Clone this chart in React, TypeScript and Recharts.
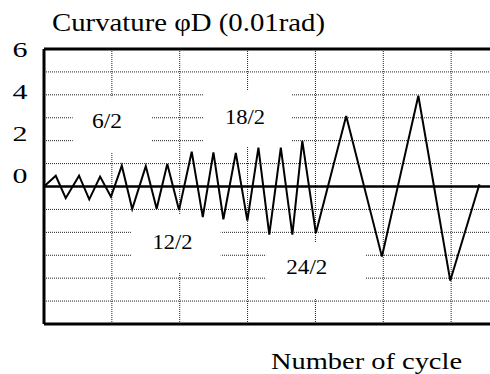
import {
  CartesianGrid,
  Line,
  LineChart,
  ReferenceArea,
  ReferenceDot,
  ReferenceLine,
  XAxis,
  YAxis,
} from "recharts";

// cycle position (1 unit = one cycle) and curvature (0.01 rad)
const cycleX = [
  0, 0.52, 0.96, 1.55, 2.0, 2.48, 2.96, 3.44, 3.9, 4.5, 4.98, 5.45, 5.97, 6.53,
  7.02, 7.49, 7.93, 8.48, 8.99, 9.48, 9.96, 10.47, 10.98, 11.42, 12.02, 13.36,
  14.94, 16.55, 17.96, 19.25,
];
const curvature = [
  0, 0.47, -0.51, 0.47, -0.56, 0.43, -0.45, 0.91, -0.98, 0.89, -0.97, 0.98,
  -1.03, 1.52, -1.34, 1.49, -1.43, 1.47, -1.49, 1.7, -2.1, 1.7, -2.1, 1.99,
  -2.03, 3.08, -3.06, 3.96, -4.11, 0.1,
];

const gridYTicks = [-6, -5, -4, -3, -2, -1, 0, 1, 2, 3, 4, 5, 6];
const yTickLabels = [6, 4, 2, 0];
const gridXTicks = [0, 3, 6, 9, 12, 15, 18, 21];
const stageLabels = ["6/2", "12/2", "18/2", "24/2"];

const data = cycleX.map((x, i) => ({ x, phi: curvature[i] }));

// white label boxes that cover the dotted grid, in data units
const stageBoxes = [
  { x1: 1.27, x2: 4.76, y1: 1.46, y2: 3.9, tx: 2.79, ty: 2.84, len: 30 },
  { x1: 3.85, x2: 7.81, y1: -3.76, y2: -1.24, tx: 5.68, ty: -2.41, len: 40 },
  { x1: 7.05, x2: 10.96, y1: 1.74, y2: 4.17, tx: 8.89, ty: 3.05, len: 40 },
  { x1: 9.82, x2: 14.2, y1: -4.86, y2: -2.42, tx: 11.62, ty: -3.51, len: 41 },
];

const SERIF = "Liberation Serif";

function YTick({ x, y, payload }: any) {
  const v = payload.value;
  if (!yTickLabels.includes(v)) return <g />;
  return (
    <text
      x={x - 16}
      y={y + 7.5 + (v - 6) * 1.8}
      textAnchor="middle"
      fontFamily={SERIF}
      fontSize={22}
      fill="#000"
      textLength={15}
      lengthAdjust="spacingAndGlyphs"
    >
      {v}
    </text>
  );
}

export default function App() {
  return (
    <div
      style={{
        position: "fixed",
        left: 0,
        top: 0,
        width: 490,
        height: 374,
        overflow: "hidden",
        background: "#fff",
        fontFamily: SERIF,
      }}
    >
      <LineChart
        width={519}
        height={374}
        data={data}
        margin={{ top: 49, right: 0, bottom: 50, left: 0 }}
        style={{ fontFamily: SERIF }}
      >
        <CartesianGrid stroke="#222" strokeWidth={1} strokeDasharray="1 1" />
        <XAxis
          type="number"
          dataKey="x"
          domain={[0, 21]}
          ticks={gridXTicks}
          hide
        />
        <YAxis
          type="number"
          domain={[-6, 6]}
          ticks={gridYTicks}
          interval={0}
          width={44}
          axisLine={false}
          tickLine={false}
          tick={<YTick />}
        />
        {stageBoxes.map((b, i) => (
          <ReferenceArea
            key={stageLabels[i]}
            x1={b.x1}
            x2={b.x2}
            y1={b.y1}
            y2={b.y2}
            fill="#fff"
            fillOpacity={1}
            stroke="none"
          />
        ))}
        {stageBoxes.map((b, i) => (
          <ReferenceDot
            key={"t" + stageLabels[i]}
            x={b.tx}
            y={b.ty}
            r={0}
            shape={(p: any) => (
              <text
                x={p.cx}
                y={p.cy + 7}
                textAnchor="middle"
                fontFamily={SERIF}
                fontSize={20}
                fill="#000"
                textLength={b.len}
                lengthAdjust="spacingAndGlyphs"
              >
                {stageLabels[i]}
              </text>
            )}
          />
        ))}
        <ReferenceLine y={0} stroke="#000" strokeWidth={2.5} />
        <ReferenceLine y={6} stroke="#000" strokeWidth={3} />
        <ReferenceLine y={-6} stroke="#000" strokeWidth={3} />
        <ReferenceLine x={0} stroke="#000" strokeWidth={3} />
        <Line
          type="linear"
          dataKey="phi"
          stroke="#000"
          strokeWidth={2}
          strokeLinejoin="miter"
          dot={false}
          isAnimationActive={false}
        />
        <text
          x={52}
          y={31}
          fontFamily={SERIF}
          fontSize={26}
          fill="#000"
          textLength={273}
          lengthAdjust="spacingAndGlyphs"
        >
          Curvature φD (0.01rad)
        </text>
        <text
          x={271}
          y={369}
          fontFamily={SERIF}
          fontSize={23}
          fill="#000"
          textLength={191}
          lengthAdjust="spacingAndGlyphs"
        >
          Number of cycle
        </text>
      </LineChart>
    </div>
  );
}
